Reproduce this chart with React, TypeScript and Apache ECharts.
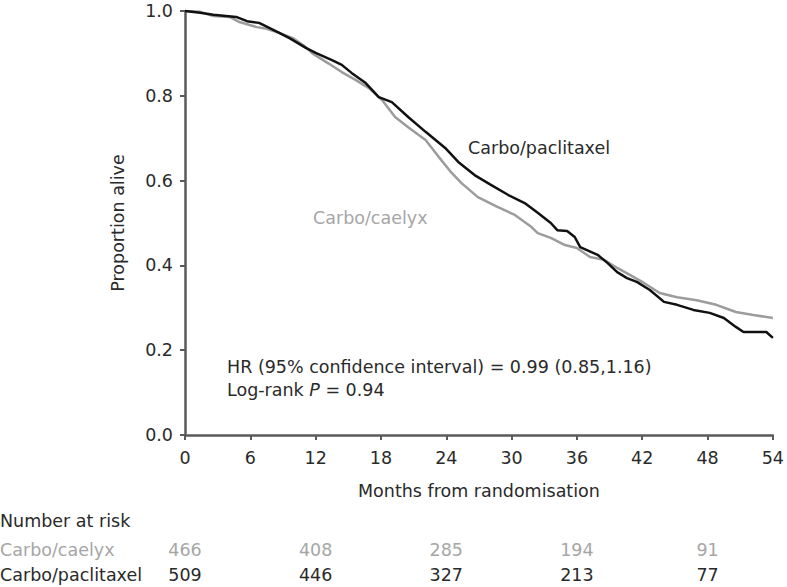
import React, { useEffect, useRef } from "react";
import * as echarts from "echarts";

// Kaplan-Meier curves
const paclitaxelMonths = [0, 1.4, 2.6, 4.7, 5.7, 6.8, 7.6, 8.7, 9.6, 11.1, 12.0, 13.5, 14.4, 15.3, 16.6, 17.8, 19.0, 20.5, 22.1, 23.9, 25.1, 26.6, 28.1, 29.7, 31.2, 32.4, 33.6, 34.2, 35.1, 35.8, 36.3, 37.9, 38.8, 39.7, 40.6, 41.5, 42.7, 44.0, 45.2, 46.7, 48.2, 49.5, 50.6, 51.3, 53.4, 54.0];
const paclitaxelSurvival = [1.0, 0.996, 0.991, 0.986, 0.976, 0.972, 0.962, 0.948, 0.936, 0.913, 0.901, 0.884, 0.873, 0.854, 0.83, 0.797, 0.785, 0.75, 0.715, 0.677, 0.644, 0.613, 0.59, 0.566, 0.547, 0.524, 0.5, 0.483, 0.481, 0.467, 0.443, 0.425, 0.406, 0.384, 0.37, 0.361, 0.342, 0.314, 0.307, 0.295, 0.288, 0.276, 0.255, 0.243, 0.243, 0.229];

const caelyxMonths = [0, 1.4, 2.6, 4.1, 5.0, 6.6, 7.5, 8.7, 9.9, 11.1, 11.7, 13.2, 14.4, 15.7, 16.9, 17.8, 18.1, 19.3, 20.5, 22.1, 23.3, 24.5, 25.4, 26.9, 28.7, 30.3, 31.8, 32.4, 33.6, 34.9, 36.0, 37.2, 38.5, 39.7, 40.9, 42.2, 43.6, 45.2, 47.0, 48.8, 50.6, 52.2, 54.0];
const caelyxSurvival = [1.0, 0.998, 0.988, 0.986, 0.974, 0.962, 0.958, 0.948, 0.936, 0.915, 0.9, 0.876, 0.856, 0.837, 0.818, 0.797, 0.79, 0.75, 0.726, 0.696, 0.656, 0.618, 0.594, 0.561, 0.538, 0.519, 0.491, 0.476, 0.465, 0.448, 0.441, 0.42, 0.413, 0.394, 0.377, 0.358, 0.335, 0.325, 0.318, 0.307, 0.29, 0.283, 0.276];

const xTicks = [0, 6, 12, 18, 24, 30, 36, 42, 48, 54];
const yTicks = [0, 0.2, 0.4, 0.6, 0.8, 1.0];

const riskMonths = [0, 12, 24, 36, 48];
const riskCaelyx = [466, 408, 285, 194, 91];
const riskPaclitaxel = [509, 446, 327, 213, 77];

const FONT = "DejaVu Sans";
const FS = 17.5;
const DARK = "#2a2a2a";
const GREY_TEXT = "#a6a6a6";
const AXIS = "#5a5a5a";

export default function App() {
  const ref = useRef<HTMLDivElement>(null);

  useEffect(() => {
    if (!ref.current) return;
    const chart = echarts.init(ref.current, null, { renderer: "svg" });
    const zip = (xs: number[], ys: number[]) => xs.map((x, i) => [x, ys[i]]);
    chart.setOption({
      animation: false,
      backgroundColor: "#ffffff",
      grid: { left: 185, top: 11, width: 592, height: 424 },
      xAxis: {
        type: "value",
        min: xTicks[0],
        max: xTicks[xTicks.length - 1],
        interval: 6,
        name: "Months from randomisation",
        nameLocation: "middle",
        nameGap: 47,
        nameTextStyle: { fontFamily: FONT, fontSize: FS, color: DARK },
        axisLine: { show: true, lineStyle: { color: AXIS, width: 2.5 } },
        axisTick: { show: true, length: 5, lineStyle: { color: AXIS, width: 2 } },
        axisLabel: { margin: 14, fontFamily: FONT, fontSize: FS, color: DARK },
        splitLine: { show: false },
      },
      yAxis: {
        type: "value",
        min: yTicks[0],
        max: yTicks[yTicks.length - 1],
        interval: 0.2,
        name: "Proportion alive",
        nameLocation: "middle",
        nameGap: 58,
        nameTextStyle: { fontFamily: FONT, fontSize: FS, color: DARK },
        axisLine: { show: true, lineStyle: { color: AXIS, width: 2.5 } },
        axisTick: { show: true, length: 5, lineStyle: { color: AXIS, width: 2 } },
        axisLabel: {
          margin: 12,
          fontFamily: FONT,
          fontSize: FS,
          color: DARK,
          formatter: (v: number) => v.toFixed(1),
        },
        splitLine: { show: false },
      },
      series: [
        {
          name: "Carbo/caelyx",
          type: "line",
          data: zip(caelyxMonths, caelyxSurvival),
          showSymbol: false,
          symbol: "none",
          lineStyle: { color: "#9c9c9c", width: 2.5 },
          z: 2,
        },
        {
          name: "Carbo/paclitaxel",
          type: "line",
          data: zip(paclitaxelMonths, paclitaxelSurvival),
          showSymbol: false,
          symbol: "none",
          lineStyle: { color: "#111111", width: 2.5 },
          z: 3,
        },
      ],
    });

    const txt = (x: number, y: number, text: string, color: string, align = "left") => ({
      type: "text",
      x,
      y,
      style: {
        text,
        fill: color,
        fontFamily: FONT,
        fontSize: FS,
        align,
        verticalAlign: "middle",
      },
    });

    const riskX = riskMonths.map((m) => chart.convertToPixel({ xAxisIndex: 0 }, m) as number);
    const graphics: any[] = [
      txt(468, 148, "Carbo/paclitaxel", DARK),
      txt(313, 218, "Carbo/caelyx", GREY_TEXT),
      txt(227, 367, "HR (95% confidence interval) = 0.99 (0.85,1.16)", DARK),
      {
        type: "text",
        x: 227,
        y: 390,
        style: {
          text: "Log-rank {i|P} = 0.94",
          fill: DARK,
          fontFamily: FONT,
          fontSize: FS,
          verticalAlign: "middle",
          rich: { i: { fontStyle: "italic", fontFamily: FONT, fontSize: FS, fill: DARK } },
        },
      },
      txt(0, 521, "Number at risk", DARK),
      txt(0, 550, "Carbo/caelyx", GREY_TEXT),
      txt(0, 575, "Carbo/paclitaxel", DARK),
    ];
    riskX.forEach((x, i) => {
      graphics.push(txt(x, 550, String(riskCaelyx[i]), GREY_TEXT, "center"));
      graphics.push(txt(x, 575, String(riskPaclitaxel[i]), DARK, "center"));
    });
    chart.setOption({ graphic: graphics });

    return () => chart.dispose();
  }, []);

  return (
    <div
      ref={ref}
      style={{ position: "fixed", left: 0, top: 0, width: 787, height: 587, background: "#fff" }}
    />
  );
}
